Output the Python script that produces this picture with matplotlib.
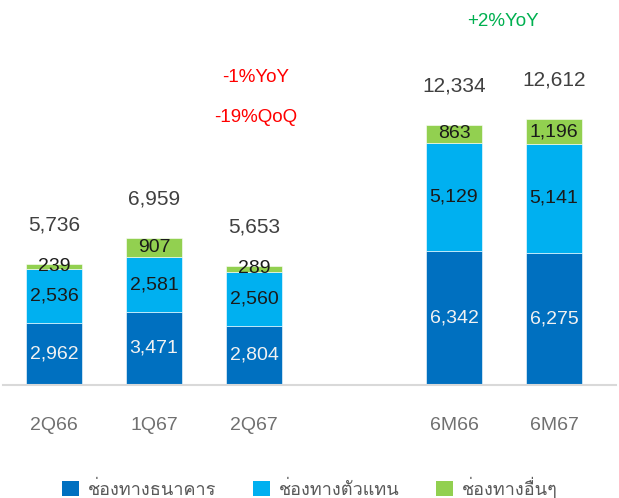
import matplotlib
matplotlib.use("Agg")
import matplotlib.pyplot as plt
from matplotlib.patches import Patch
from matplotlib import font_manager
from matplotlib.ft2font import FT2Font

# ---------- data ----------
categories = ["2Q66", "1Q67", "2Q67", "6M66", "6M67"]
positions = [0, 1, 2, 4, 5]
bank = [2962, 3471, 2804, 6342, 6275]
agent = [2536, 2581, 2560, 5129, 5141]
other = [239, 907, 289, 863, 1196]
totals = [5736, 6959, 5653, 12334, 12612]
series_names = ["ช่องทางธนาคาร", "ช่องทางตัวแทน", "ช่องทางอื่นๆ"]
colors = ["#0070C0", "#00B0F0", "#92D050"]

# find an installed font that has Thai glyphs (for the legend)
thai_family = None
for fe in font_manager.fontManager.ttflist:
    try:
        if 0x0E0A in FT2Font(fe.fname).get_charmap():
            thai_family = fe.name
            break
    except Exception:
        pass
families = ["Liberation Sans", "DejaVu Sans"] + ([thai_family] if thai_family else [])
plt.rcParams["font.family"] = families

W, H = 619, 498
fig = plt.figure(figsize=(W / 100, H / 100), dpi=100)
# axes: baseline at y=385px, spans x 3..616px
ax = fig.add_axes([3 / W, (H - 385) / H, 613 / W, 385 / H])

bottom2 = [b + a for b, a in zip(bank, agent)]
w = 0.56
ax.bar(positions, bank, w, color=colors[0], edgecolor="white", linewidth=0.4)
ax.bar(positions, agent, w, bottom=bank, color=colors[1], edgecolor="white", linewidth=0.4)
ax.bar(positions, other, w, bottom=bottom2, color=colors[2], edgecolor="white", linewidth=0.4)

for x, b, a, o, t in zip(positions, bank, agent, other, totals):
    ax.text(x, b / 2, f"{b:,}", ha="center", va="center", fontsize=14, color="#F2F2F2")
    ax.text(x, b + a / 2, f"{a:,}", ha="center", va="center", fontsize=14, color="#1a1a1a")
    ax.text(x, b + a + o / 2, f"{o:,}", ha="center", va="center", fontsize=14, color="#1a1a1a")
    ax.annotate(f"{t:,}", (x, b + a + o), xytext=(0, 28), textcoords="offset points",
                ha="center", va="center", fontsize=15, color="#404040")

ax.set_xlim(-0.51, 5.62)
ax.set_ylim(0, 18255)
ax.set_xticks(positions)
ax.set_xticklabels(categories, fontsize=14, color="#707070")
ax.tick_params(axis="x", length=0, pad=23)
ax.set_yticks([])
for s in ["top", "right", "left"]:
    ax.spines[s].set_visible(False)
ax.spines["bottom"].set_color("#D9D9D9")
ax.spines["bottom"].set_linewidth(1.5)
ax.patch.set_alpha(0)

fig.text(256 / W, 1 - 78 / H, "-1%YoY", color="#FF0000", fontsize=13.5, ha="center", va="center")
fig.text(256 / W, 1 - 117 / H, "-19%QoQ", color="#FF0000", fontsize=13.5, ha="center", va="center")
fig.text(503 / W, 1 - 22 / H, "+2%YoY", color="#00B050", fontsize=13.5, ha="center", va="center")

handles = [Patch(facecolor=c) for c in colors]
fig.legend(handles, series_names, loc="center", bbox_to_anchor=(310 / W, 1 - 488 / H),
           ncol=3, frameon=False, fontsize=13, labelcolor="#595959",
           handlelength=0.95, handleheight=0.95, handletextpad=0.5, columnspacing=2.0,
           borderpad=0, borderaxespad=0)

fig.savefig("out.png", dpi=100)
